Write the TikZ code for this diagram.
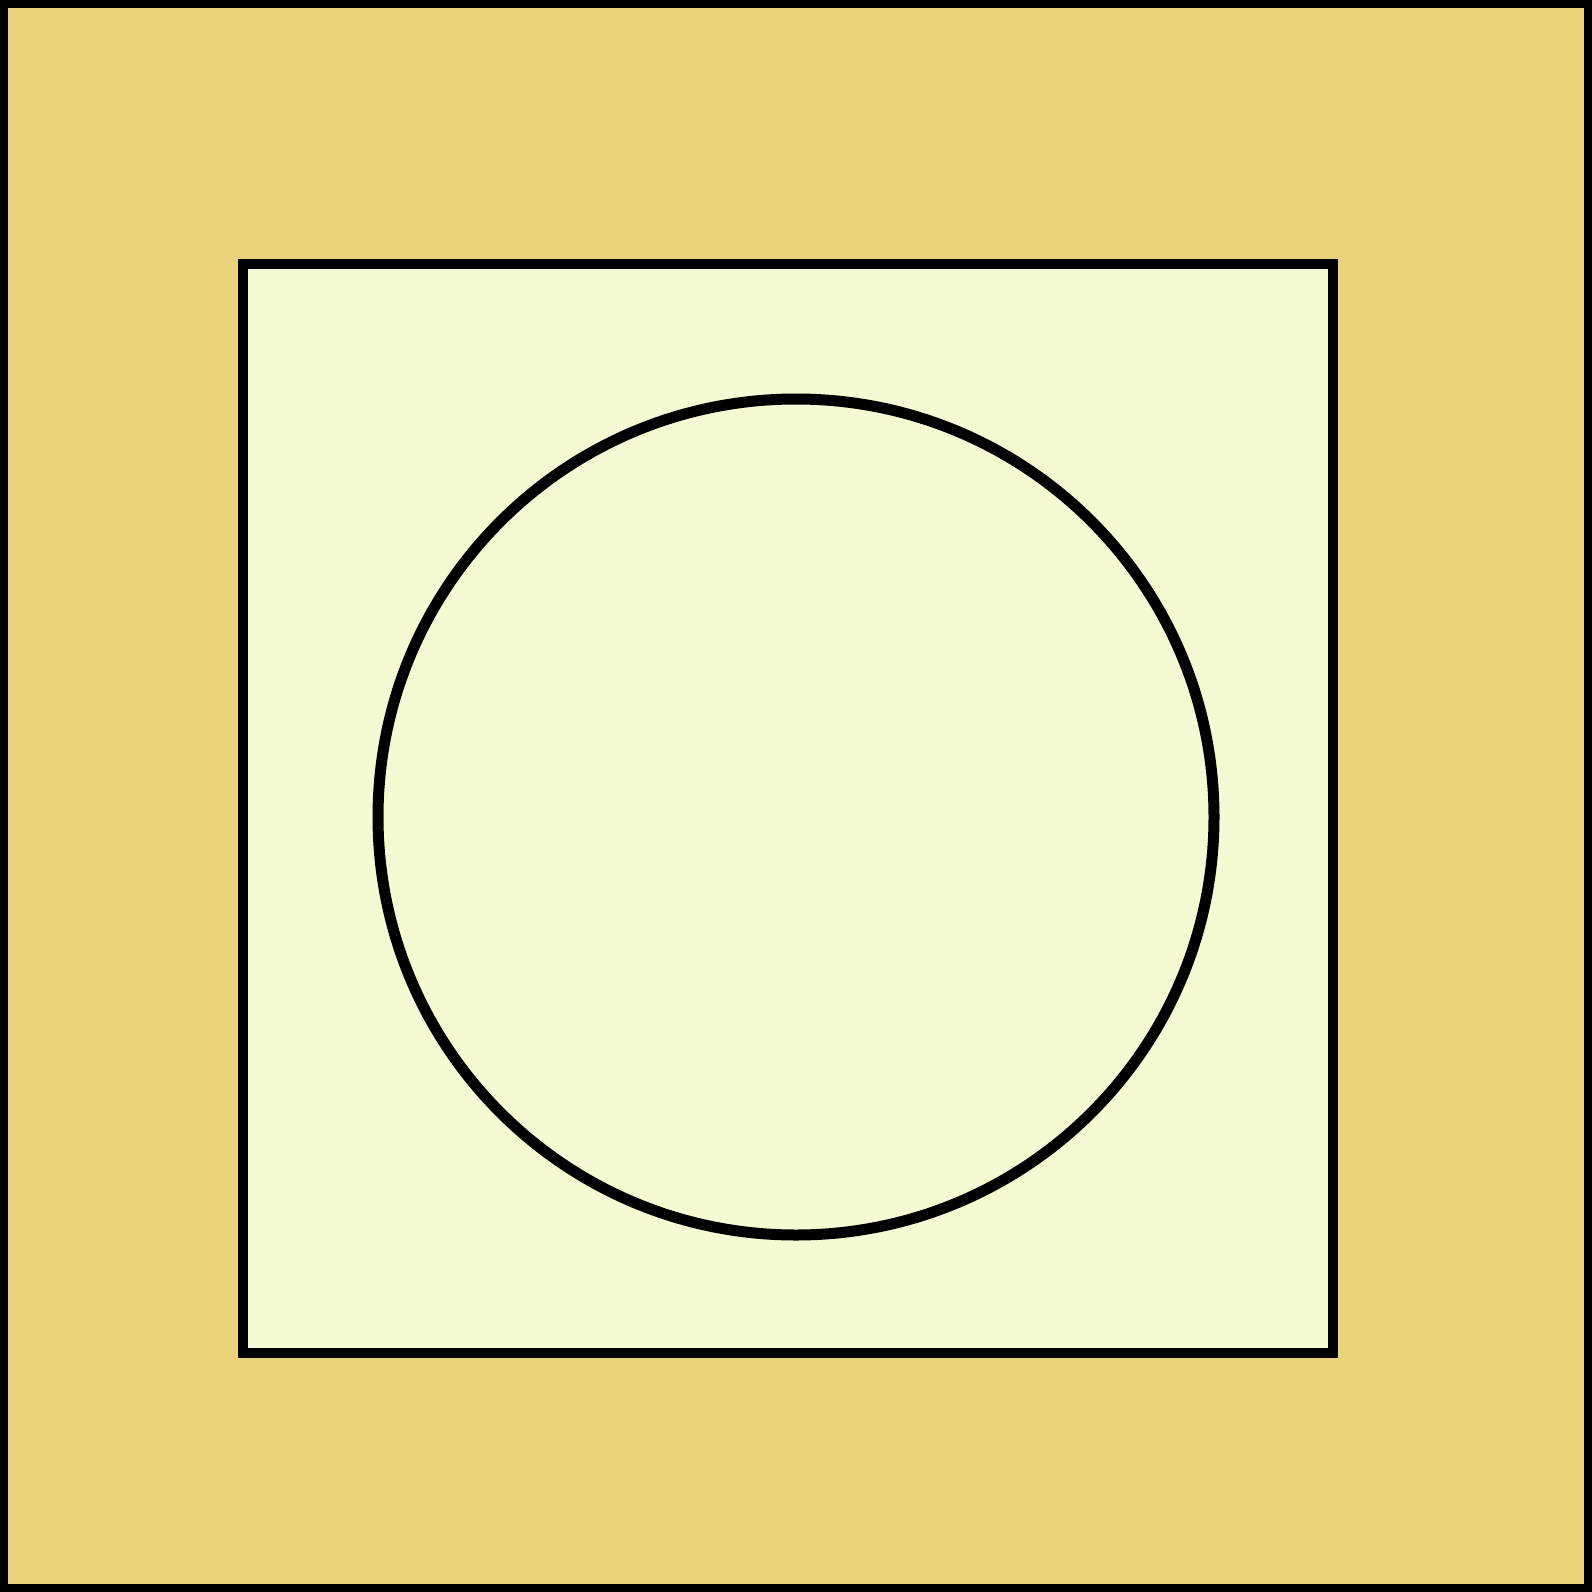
\documentclass[tikz,border=0pt]{standalone}
\definecolor{outerfill}{RGB}{234,210,122}
\definecolor{innerfill}{RGB}{245,250,210}
\begin{document}
\begin{tikzpicture}[x=1pt,y=-1pt,
  outerbox/.style={draw=black,line width=8pt,fill=outerfill},
  innerbox/.style={draw=black,line width=10pt,fill=innerfill},
  ring/.style={draw=black,line width=11pt}]
\useasboundingbox (0,0) rectangle (1592,1592);
\draw[outerbox] (4,4) rectangle (1588,1588);
\draw[innerbox] (243,263.5) rectangle (1333,1353);
\draw[ring] (796,817) circle (418);
\end{tikzpicture}
\end{document}
